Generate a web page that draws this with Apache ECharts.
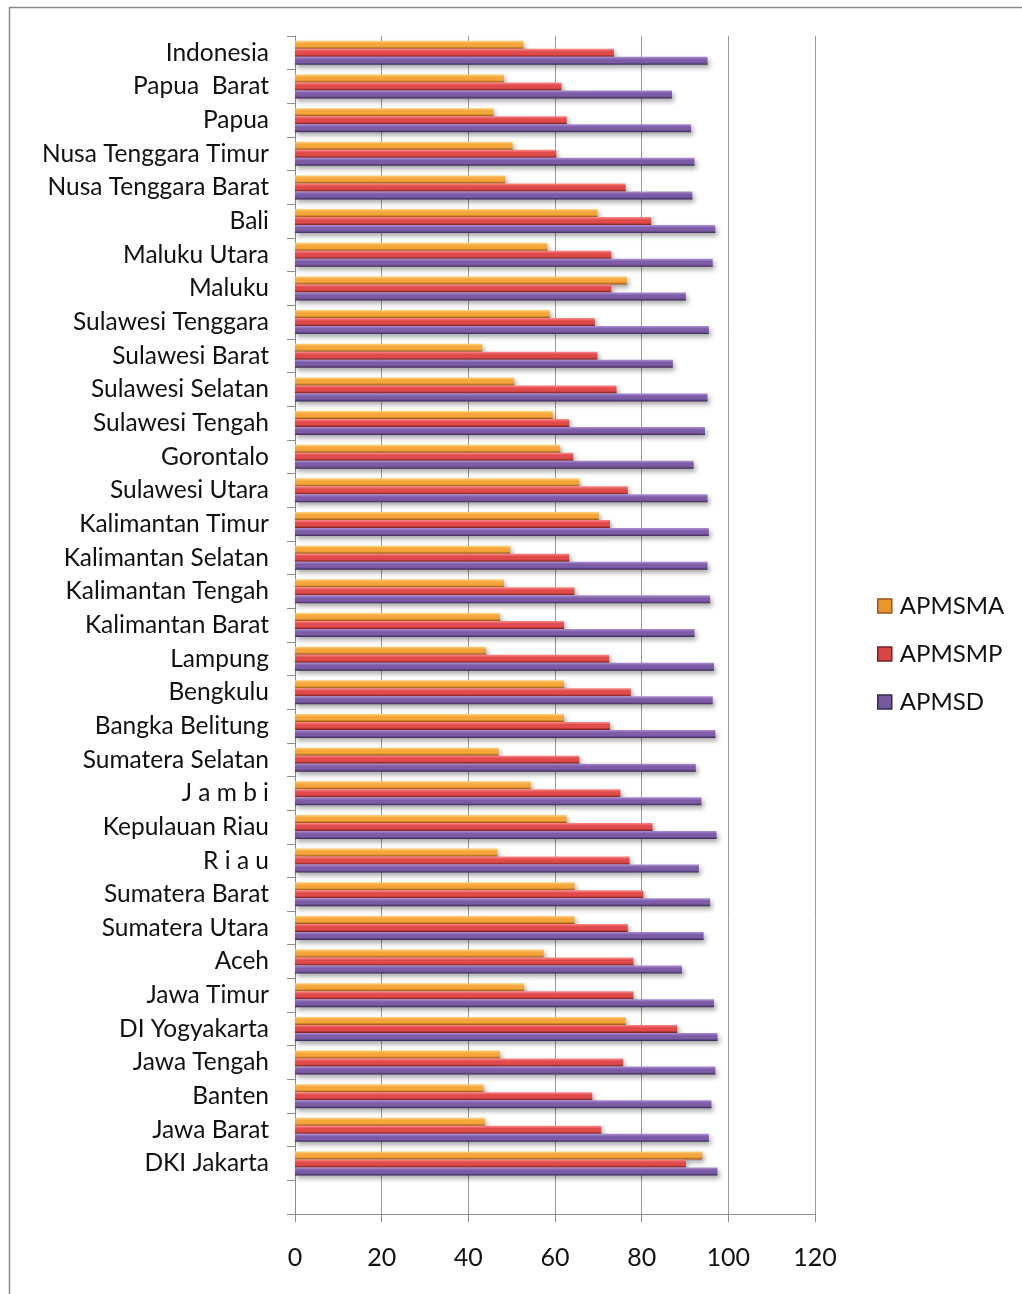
<!DOCTYPE html>
<html>
<head>
<meta charset="utf-8">
<script src="https://cdn.jsdelivr.net/npm/echarts@6/dist/echarts.min.js"></script>
<style>
  html, body { margin: 0; padding: 0; background: #ffffff; }
  #chart { width: 1022px; height: 1294px; }
</style>
</head>
<body>
<div id="chart"></div>
<script>
// Provinces, listed top to bottom; the last (blank) slot leaves an empty row above the axis
const provinces = [
  'Indonesia', 'Papua  Barat', 'Papua', 'Nusa Tenggara Timur', 'Nusa Tenggara Barat',
  'Bali', 'Maluku Utara', 'Maluku', 'Sulawesi Tenggara', 'Sulawesi Barat',
  'Sulawesi Selatan', 'Sulawesi Tengah', 'Gorontalo', 'Sulawesi Utara', 'Kalimantan Timur',
  'Kalimantan Selatan', 'Kalimantan Tengah', 'Kalimantan Barat', 'Lampung', 'Bengkulu',
  'Bangka Belitung', 'Sumatera Selatan', 'J a m b i', 'Kepulauan Riau', 'R i a u',
  'Sumatera Barat', 'Sumatera Utara', 'Aceh', 'Jawa Timur', 'DI Yogyakarta',
  'Jawa Tengah', 'Banten', 'Jawa Barat', 'DKI Jakarta', ''
];

// Angka Partisipasi Murni per jenjang (same order as provinces)
const apmSMA = [
  52.7, 48.2, 45.8, 50.2, 48.5,
  69.8, 58.2, 76.6, 58.8, 43.2,
  50.6, 59.5, 61.2, 65.6, 70.1,
  49.7, 48.2, 47.3, 44.1, 62.1,
  62.1, 47.0, 54.4, 62.7, 46.7,
  64.5, 64.5, 57.4, 52.9, 76.3,
  47.3, 43.5, 43.8, 94.0, null
];
const apmSMP = [
  73.6, 61.5, 62.7, 60.3, 76.3,
  82.2, 73.0, 73.0, 69.2, 69.8,
  74.2, 63.3, 64.2, 76.8, 72.7,
  63.3, 64.5, 62.1, 72.5, 77.5,
  72.7, 65.6, 75.1, 82.5, 77.2,
  80.4, 76.8, 78.1, 78.1, 88.2,
  75.7, 68.6, 70.7, 90.2, null
];
const apmSD = [
  95.2, 87.0, 91.4, 92.2, 91.7,
  97.0, 96.4, 90.2, 95.5, 87.2,
  95.2, 94.6, 92.0, 95.2, 95.5,
  95.2, 95.8, 92.2, 96.7, 96.4,
  97.0, 92.5, 93.8, 97.3, 93.2,
  95.8, 94.3, 89.3, 96.7, 97.5,
  97.0, 96.1, 95.5, 97.5, null
];

const xTicks = { min: 0, max: 120, interval: 20 };

const FONT = 'Lato';

function tube(light, mid, dark) {
  return new echarts.graphic.LinearGradient(0, 0, 0, 1, [
    { offset: 0, color: light },
    { offset: 0.35, color: mid },
    { offset: 0.7, color: mid },
    { offset: 1, color: dark }
  ]);
}

function barSeries(name, data, light, mid, dark) {
  return {
    name: name,
    type: 'bar',
    data: data,
    barWidth: 8,
    barGap: '0%',
    itemStyle: {
      color: tube(light, mid, dark),
      shadowColor: 'rgba(0,0,0,0.35)',
      shadowBlur: 5,
      shadowOffsetX: 2,
      shadowOffsetY: 3
    },
    emphasis: { disabled: true }
  };
}

const chart = echarts.init(document.getElementById('chart'), null, { renderer: 'canvas' });

chart.setOption({
  animation: false,
  backgroundColor: '#ffffff',
  textStyle: { fontFamily: FONT },
  graphic: [{
    type: 'rect',
    shape: { x: 9.5, y: 7.5, width: 1100, height: 1400 },
    style: { fill: 'none', stroke: '#8a8a8a', lineWidth: 1.5 },
    silent: true
  }],
  grid: { left: 295, right: 207, top: 36, bottom: 80, containLabel: false },
  legend: {
    orient: 'vertical',
    left: 877,
    top: 594,
    padding: 0,
    itemWidth: 14,
    itemHeight: 14,
    itemGap: 24,
    icon: 'rect',
    textStyle: { fontFamily: FONT, fontSize: 24, color: '#111111', lineHeight: 24, padding: [0, 0, 0, 3] },
    data: [
      { name: 'APMSMA', itemStyle: { color: '#e9962c', borderColor: '#9a5414', borderWidth: 1.5 } },
      { name: 'APMSMP', itemStyle: { color: '#d94444', borderColor: '#7a2020', borderWidth: 1.5 } },
      { name: 'APMSD', itemStyle: { color: '#7757a0', borderColor: '#3a2852', borderWidth: 1.5 } }
    ]
  },
  xAxis: {
    type: 'value',
    min: xTicks.min,
    max: xTicks.max,
    interval: xTicks.interval,
    axisLine: { show: true, lineStyle: { color: '#8c8c8c', width: 1 } },
    axisTick: { show: true, length: 8, lineStyle: { color: '#8c8c8c' } },
    splitLine: { show: true, lineStyle: { color: '#9a9a9a', width: 1 } },
    axisLabel: { fontFamily: FONT, fontSize: 25, color: '#111111', margin: 31 }
  },
  yAxis: {
    type: 'category',
    inverse: true,
    data: provinces,
    axisLine: { show: true, lineStyle: { color: '#8c8c8c', width: 1 } },
    axisTick: { show: true, length: 8, alignWithLabel: false, lineStyle: { color: '#8c8c8c' } },
    axisLabel: { fontFamily: FONT, fontSize: 24.5, color: '#111111', margin: 26, interval: 0 },
    splitLine: { show: false }
  },
  series: [
    barSeries('APMSMA', apmSMA, '#ffd27a', '#f5a53a', '#9a5414'),
    barSeries('APMSMP', apmSMP, '#ff8a8a', '#e04a4a', '#7a2020'),
    barSeries('APMSD', apmSD, '#ad8fd4', '#7c5ca6', '#3a2852')
  ]
});
</script>
</body>
</html>
